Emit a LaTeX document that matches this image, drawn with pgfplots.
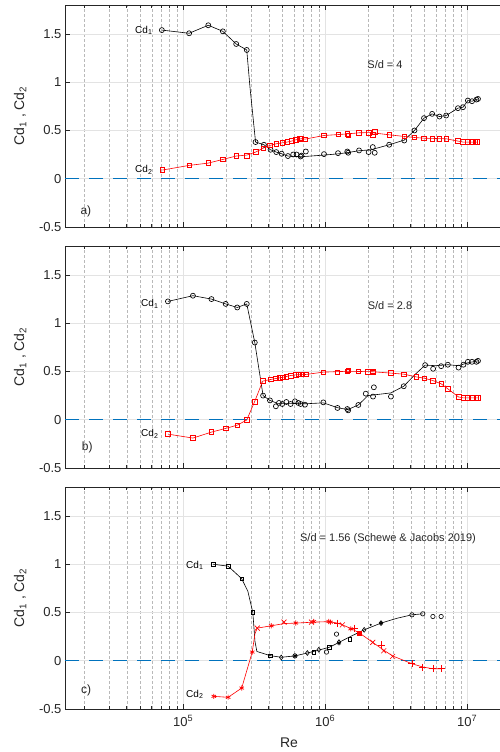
\documentclass[border=0pt]{standalone}
\usepackage{fontspec}
\setmainfont{Liberation Sans}
\usepackage{pgfplots}
\pgfplotsset{compat=1.18}
\definecolor{mblue}{rgb}{0,0.447,0.741}
\definecolor{axgray}{rgb}{0.15,0.15,0.15}
\pgfplotsset{
  every axis/.append style={
    scale only axis, width=448pt, height=222pt,
    xmin=1.47e4, xmax=2.1e7, ymin=-0.5, ymax=1.8,
    axis line style={draw=axgray, line width=0.5pt},
    ytick={-0.5,0,0.5,1,1.5}, yticklabels={-0.5,0,0.5,1,1.5},
    xtick={1e5,1e6,1e7},
    minor xtick={2e4,3e4,4e4,5e4,6e4,7e4,8e4,9e4,2e5,3e5,4e5,5e5,6e5,7e5,8e5,9e5,2e6,3e6,4e6,5e6,6e6,7e6,8e6,9e6,2e7},
    xmajorgrids, ymajorgrids, xminorgrids,
    major grid style={draw=gray!22, line width=0.6pt},
    minor grid style={draw=gray!55, dash pattern=on 3pt off 2pt, line width=0.45pt},
    major tick length=5pt, minor tick length=3pt,
    tick style={draw=axgray, line width=0.5pt},
    tick label style={font=\fontsize{13}{15}\selectfont, text=axgray},
    ylabel={Cd\textsubscript{1} , Cd\textsubscript{2}},
    ylabel style={at={(axis description cs:-0.1,0.5)}, anchor=center, font=\fontsize{14}{16}\selectfont, text=axgray},
  },
}
\tikzset{
  cdlab/.style={font=\fontsize{10}{12}\selectfont, text=black, anchor=base west},
  sdlab/.style={font=\fontsize{11}{13}\selectfont, text=axgray, anchor=center},
  pnlab/.style={font=\fontsize{12}{14}\selectfont, text=axgray, anchor=base west},
  zeroline/.style={mblue, line width=1.3pt, dash pattern=on 14pt off 10pt},
  blk/.style={black, line width=0.6pt},
  rd/.style={red, line width=0.6pt},
}
\begin{document}
\begin{tikzpicture}
\path[use as bounding box] (0pt,0pt) rectangle (499pt,752pt);
% ---------------- panel a ----------------
\begin{semilogxaxis}[at={(65pt,747pt)}, anchor=north west, xticklabels={}]
\addplot[zeroline, forget plot] coordinates {(1.47e4,0) (2.1e7,0)};
\addplot[blk, no marks] coordinates {(7.07e4,1.54) (1.1e5,1.507) (1.5e5,1.59) (1.9e5,1.527) (2.36e5,1.396) (2.8e5,1.334) (2.95e5,0.95) (3.23e5,0.38) (3.7e5,0.352) (4.12e5,0.30) (4.52e5,0.276) (4.93e5,0.259) (5.46e5,0.235) (6.8e5,0.228) (9.8e5,0.245) (1.24e6,0.258) (1.45e6,0.272) (1.73e6,0.29) (2.1e6,0.30) (2.82e6,0.352) (3.6e6,0.40) (4.25e6,0.5) (4.96e6,0.628) (5.66e6,0.672) (6.37e6,0.644) (7.1e6,0.655) (8.6e6,0.731) (9.33e6,0.741) (1.01e7,0.81) (1.08e7,0.803) (1.19e7,0.827)};
\addplot[only marks, black, mark=o, mark size=2.5pt, mark options={line width=0.65pt}] coordinates {(7.07e4,1.54) (1.1e5,1.507) (1.5e5,1.59) (1.9e5,1.527) (2.36e5,1.396) (2.8e5,1.334) (3.23e5,0.38) (3.7e5,0.352) (4.12e5,0.30) (4.52e5,0.276) (4.93e5,0.259) (5.46e5,0.235) (5.95e5,0.251) (6.28e5,0.251) (6.7e5,0.23) (6.8e5,0.24) (7.3e5,0.282) (9.8e5,0.255) (1.23e6,0.265) (1.43e6,0.282) (1.45e6,0.269) (1.73e6,0.293) (2.02e6,0.276) (2.16e6,0.328) (2.23e6,0.269) (2.82e6,0.352) (3.6e6,0.396) (4.25e6,0.5) (4.96e6,0.628) (5.66e6,0.672) (6.37e6,0.644) (7.1e6,0.655) (8.6e6,0.731) (9.33e6,0.741) (1.01e7,0.81) (1.08e7,0.803) (1.16e7,0.82) (1.19e7,0.827)};
\addplot[rd, no marks] coordinates {(7.14e4,0.09) (1.1e5,0.138) (1.5e5,0.162) (1.9e5,0.2) (2.36e5,0.235) (2.8e5,0.245) (3.23e5,0.276) (3.66e5,0.317) (4.08e5,0.345) (4.52e5,0.362) (4.98e5,0.372) (5.4e5,0.38) (5.8e5,0.39) (6.19e5,0.403) (6.8e5,0.415) (7.2e5,0.41) (9.8e5,0.448) (1.24e6,0.458) (1.45e6,0.465) (1.73e6,0.476) (2.1e6,0.478) (2.82e6,0.455) (3.6e6,0.438) (4.25e6,0.427) (4.96e6,0.42) (7.1e6,0.414) (8.6e6,0.39) (9.33e6,0.38) (1.18e7,0.38)};
\addplot[only marks, red, mark=square, mark size=2.3pt, mark options={line width=0.65pt}] coordinates {(7.14e4,0.09) (1.1e5,0.138) (1.5e5,0.162) (1.9e5,0.2) (2.36e5,0.235) (2.79e5,0.24) (3.23e5,0.276) (3.66e5,0.317) (4.08e5,0.345) (4.52e5,0.362) (4.98e5,0.372) (5.4e5,0.38) (5.8e5,0.39) (6.19e5,0.403) (6.64e5,0.414) (6.8e5,0.42) (7.2e5,0.407) (9.8e5,0.448) (1.24e6,0.458) (1.43e6,0.465) (1.45e6,0.448) (1.73e6,0.476) (2.02e6,0.476) (2.16e6,0.455) (2.23e6,0.483) (2.82e6,0.455) (3.6e6,0.438) (4.25e6,0.427) (4.96e6,0.42) (5.66e6,0.414) (6.37e6,0.414) (7.1e6,0.414) (8.6e6,0.39) (9.33e6,0.38) (1.01e7,0.38) (1.08e7,0.38) (1.14e7,0.38) (1.18e7,0.38)};
\node[sdlab] at (rel axis cs:0.7143,0.730) {S/d = 4};
\node[cdlab] at (rel axis cs:0.1489,0.872) {Cd\textsubscript{1}};
\node[cdlab] at (rel axis cs:0.1489,0.245) {Cd\textsubscript{2}};
\node[pnlab] at (rel axis cs:0.0268,0.056) {a)};
\end{semilogxaxis}
% ---------------- panel b ----------------
\begin{semilogxaxis}[at={(65pt,506pt)}, anchor=north west, xticklabels={}]
\addplot[zeroline, forget plot] coordinates {(1.47e4,0) (2.1e7,0)};
\addplot[blk, no marks] coordinates {(7.8e4,1.226) (1.17e5,1.285) (1.58e5,1.25) (1.99e5,1.20) (2.4e5,1.163) (2.8e5,1.20) (3.19e5,0.80) (3.65e5,0.25) (4.08e5,0.20) (4.6e5,0.17) (5.5e5,0.17) (7.2e5,0.165) (9.7e5,0.175) (1.22e6,0.125) (1.44e6,0.105) (1.71e6,0.153) (2.0e6,0.25) (2.9e6,0.278) (3.57e6,0.347) (4.3e6,0.47) (5.05e6,0.566) (6.0e6,0.56) (7.3e6,0.57) (8.68e6,0.56) (1.01e7,0.59) (1.19e7,0.61)};
\addplot[only marks, black, mark=o, mark size=2.5pt, mark options={line width=0.65pt}] coordinates {(7.8e4,1.226) (1.17e5,1.285) (1.58e5,1.25) (1.99e5,1.20) (2.4e5,1.163) (2.8e5,1.20) (3.19e5,0.80) (3.65e5,0.25) (4.08e5,0.20) (4.49e5,0.139) (4.72e5,0.174) (4.98e5,0.163) (5.32e5,0.184) (5.7e5,0.163) (6.12e5,0.191) (6.46e5,0.174) (6.71e5,0.163) (7.2e5,0.156) (9.7e5,0.18) (1.22e6,0.122) (1.43e6,0.111) (1.45e6,0.097) (1.71e6,0.153) (1.93e6,0.27) (2.2e6,0.336) (2.17e6,0.24) (2.9e6,0.24) (3.57e6,0.347) (5.05e6,0.566) (5.75e6,0.528) (6.55e6,0.555) (7.3e6,0.57) (8.68e6,0.54) (9.4e6,0.57) (1.01e7,0.60) (1.08e7,0.60) (1.16e7,0.60) (1.19e7,0.61)};
\addplot[rd, no marks] coordinates {(7.8e4,-0.149) (1.17e5,-0.19) (1.58e5,-0.128) (1.99e5,-0.09) (2.4e5,-0.056) (2.8e5,-0.003) (3.18e5,0.1875) (3.63e5,0.40) (4.12e5,0.417) (4.49e5,0.427) (5.03e5,0.44) (5.7e5,0.458) (6.19e5,0.465) (7.3e5,0.469) (9.7e5,0.493) (1.44e6,0.502) (1.71e6,0.50) (2.16e6,0.497) (2.9e6,0.483) (3.57e6,0.472) (4.37e6,0.444) (4.99e6,0.43) (5.73e6,0.406) (6.55e6,0.372) (7.3e6,0.32) (8.68e6,0.236) (9.4e6,0.226) (1.19e7,0.226)};
\addplot[only marks, red, mark=square, mark size=2.3pt, mark options={line width=0.65pt}] coordinates {(7.8e4,-0.149) (1.17e5,-0.19) (1.58e5,-0.128) (1.99e5,-0.09) (2.4e5,-0.056) (2.8e5,-0.003) (3.18e5,0.1875) (3.63e5,0.40) (4.12e5,0.417) (4.49e5,0.427) (4.77e5,0.434) (5.03e5,0.44) (5.32e5,0.444) (5.7e5,0.458) (6.19e5,0.465) (6.54e5,0.469) (6.9e5,0.469) (7.3e5,0.469) (9.7e5,0.493) (1.22e6,0.493) (1.43e6,0.50) (1.45e6,0.51) (1.71e6,0.50) (1.99e6,0.497) (2.16e6,0.50) (2.17e6,0.49) (2.9e6,0.483) (3.57e6,0.472) (4.37e6,0.444) (4.99e6,0.43) (5.73e6,0.406) (6.55e6,0.372) (7.3e6,0.32) (8.68e6,0.236) (9.4e6,0.226) (1.01e7,0.226) (1.08e7,0.226) (1.16e7,0.226) (1.19e7,0.226)};
\node[sdlab] at (rel axis cs:0.7254,0.73) {S/d = 2.8};
\node[cdlab] at (rel axis cs:0.1623,0.727) {Cd\textsubscript{1}};
\node[cdlab] at (rel axis cs:0.1623,0.141) {Cd\textsubscript{2}};
\node[pnlab] at (rel axis cs:0.0297,0.079) {b)};
\end{semilogxaxis}
% ---------------- panel c ----------------
\begin{semilogxaxis}[at={(65pt,265pt)}, anchor=north west,
  xticklabels={10\textsuperscript{5},10\textsuperscript{6},10\textsuperscript{7}},
  xticklabel style={yshift=-3pt},
  xlabel={Re},
  xlabel style={at={(axis description cs:0.5,-0.153)}, anchor=center, font=\fontsize{14}{16}\selectfont, text=axgray}]
\addplot[zeroline, forget plot] coordinates {(1.47e4,0) (2.1e7,0)};
\addplot[blk, no marks] coordinates {(1.62e5,1.0) (2.07e5,0.98) (2.58e5,0.85) (2.85e5,0.72) (3.09e5,0.50) (3.2e5,0.2) (3.3e5,0.096) (4.12e5,0.052) (4.9e5,0.036) (6.12e5,0.05) (7.48e5,0.08) (9.0e5,0.11) (1.07e6,0.14) (1.25e6,0.19) (1.5e6,0.25) (1.88e6,0.32) (2.47e6,0.39) (3.2e6,0.44) (4.08e6,0.476) (4.86e6,0.486)};
\addplot[only marks, black, mark=square, mark size=1.8pt, mark options={line width=0.6pt}] coordinates {(1.62e5,1.0) (2.07e5,0.98) (2.58e5,0.85) (3.09e5,0.50) (4.12e5,0.052) (8.3e5,0.09) (1.07e6,0.138) (1.49e6,0.224)};
\addplot[only marks, black, mark=diamond, mark size=2.4pt, mark options={line width=0.6pt}] coordinates {(4.9e5,0.034) (7.48e5,0.08) (9.0e5,0.114) (1.25e6,0.193) (1.88e6,0.32) (2.47e6,0.39)};
\addplot[only marks, black, mark=o, mark size=2.2pt, mark options={line width=0.6pt}] coordinates {(6.12e5,0.05) (1.02e6,0.09) (1.2e6,0.276) (4.08e6,0.476) (4.86e6,0.486) (5.73e6,0.458) (6.55e6,0.458)};
\addplot[only marks, black, mark=asterisk, mark size=2.2pt, mark options={line width=0.6pt}] coordinates {(6.12e5,0.05) (1.25e6,0.183) (2.47e6,0.39)};
\addplot[only marks, black, mark=*, mark size=0.8pt] coordinates {(2.09e6,0.372)};
\addplot[rd, no marks] coordinates {(1.64e5,-0.369) (2.07e5,-0.379) (2.58e5,-0.283) (3.06e5,0.09) (3.2e5,0.28) (3.32e5,0.338) (4.17e5,0.362) (5.12e5,0.385) (6.2e5,0.39) (8.3e5,0.40) (1.06e6,0.405) (1.22e6,0.39) (1.32e6,0.372) (1.51e6,0.335) (1.73e6,0.29) (2.16e6,0.19) (2.58e6,0.11) (2.98e6,0.05) (4.08e6,-0.031) (4.86e6,-0.065) (5.73e6,-0.083) (6.55e6,-0.083)};
\addplot[only marks, red, mark=asterisk, mark size=2.6pt, mark options={line width=0.7pt}] coordinates {(1.64e5,-0.369) (2.07e5,-0.379) (2.58e5,-0.283) (3.06e5,0.09) (4.17e5,0.362) (6.2e5,0.39) (8.3e5,0.406) (1.06e6,0.406) (1.09e6,0.40) (1.51e6,0.33)};
\addplot[only marks, red, mark=x, mark size=3.5pt, mark options={line width=0.6pt}] coordinates {(3.32e5,0.338) (5.12e5,0.40) (8.0e5,0.40) (1.32e6,0.372) (2.16e6,0.19) (2.58e6,0.103) (2.98e6,0.045)};
\addplot[only marks, red, mark=+, mark size=3.5pt, mark options={line width=0.6pt}] coordinates {(1.22e6,0.39) (1.6e6,0.338) (2.47e6,0.165) (4.08e6,-0.031) (4.86e6,-0.065) (5.73e6,-0.083) (6.55e6,-0.083)};
\addplot[only marks, red, mark=square*, mark size=2.2pt] coordinates {(1.73e6,0.286)};
\node[sdlab] at (rel axis cs:0.7210,0.766) {S/d = 1.56 (Schewe \& Jacobs 2019)};
\node[cdlab] at (rel axis cs:0.2627,0.634) {Cd\textsubscript{1}};
\node[cdlab] at (rel axis cs:0.2627,0.0527) {Cd\textsubscript{2}};
\node[pnlab] at (rel axis cs:0.0283,0.0676) {c)};
\end{semilogxaxis}
\end{tikzpicture}
\end{document}
